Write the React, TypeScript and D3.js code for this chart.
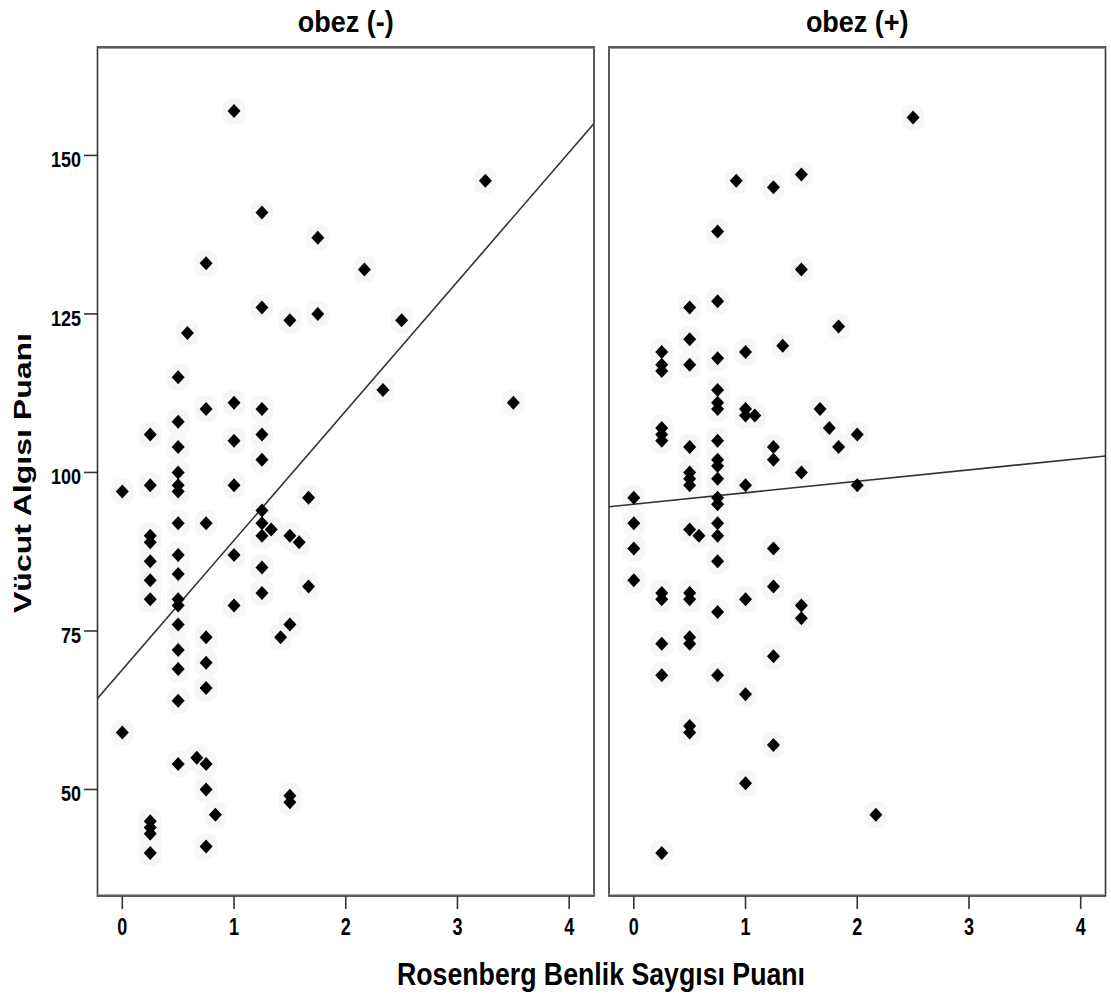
import React from "react";
import * as d3 from "d3";

// ---- Data ----
const panelTitles = ["obez (-)", "obez (+)"];
const xTicks = [0, 1, 2, 3, 4];
const yTicks = [50, 75, 100, 125, 150];
const xTitle = "Rosenberg Benlik Saygısı Puanı";
const yTitle = "Vücut Algısı Puanı";

// obez (-) : [Rosenberg score, body perception score]
const obezNeg: [number, number][] = [
  [0, 97], [0, 59],
  [0.25, 106], [0.25, 98], [0.25, 90], [0.25, 89], [0.25, 86], [0.25, 83], [0.25, 80],
  [0.25, 45], [0.25, 44], [0.25, 43], [0.25, 40],
  [0.5, 115], [0.5, 108], [0.5, 104], [0.5, 100], [0.5, 98], [0.5, 97], [0.5, 92], [0.5, 87],
  [0.5, 84], [0.5, 80], [0.5, 79], [0.5, 76], [0.5, 72], [0.5, 69], [0.5, 64], [0.5, 54],
  [0.583, 122], [0.667, 55],
  [0.75, 133], [0.75, 110], [0.75, 92], [0.75, 74], [0.75, 70], [0.75, 66], [0.75, 54], [0.75, 50], [0.75, 41],
  [0.833, 46],
  [1, 157], [1, 111], [1, 105], [1, 98], [1, 87], [1, 79],
  [1.25, 141], [1.25, 126], [1.25, 110], [1.25, 106], [1.25, 102], [1.25, 94], [1.25, 92], [1.25, 90], [1.25, 85], [1.25, 81],
  [1.333, 91], [1.417, 74],
  [1.5, 124], [1.5, 90], [1.5, 76], [1.5, 49], [1.5, 48],
  [1.583, 89], [1.667, 96], [1.667, 82], [1.75, 137], [1.75, 125],
  [2.167, 132], [2.333, 113], [2.5, 124], [3.25, 146], [3.5, 111],
];

// obez (+)
const obezPos: [number, number][] = [
  [0, 96], [0, 92], [0, 88], [0, 83],
  [0.25, 119], [0.25, 117], [0.25, 116], [0.25, 107], [0.25, 106], [0.25, 105], [0.25, 81], [0.25, 80],
  [0.25, 73], [0.25, 68], [0.25, 40],
  [0.5, 126], [0.5, 121], [0.5, 117], [0.5, 104], [0.5, 100], [0.5, 99], [0.5, 98], [0.5, 91],
  [0.5, 81], [0.5, 80], [0.5, 74], [0.5, 73], [0.5, 60], [0.5, 59],
  [0.583, 90],
  [0.75, 138], [0.75, 127], [0.75, 118], [0.75, 113], [0.75, 111], [0.75, 110], [0.75, 105], [0.75, 102],
  [0.75, 101], [0.75, 99], [0.75, 96], [0.75, 95], [0.75, 92], [0.75, 90], [0.75, 86], [0.75, 78], [0.75, 68],
  [0.917, 146],
  [1, 119], [1, 110], [1, 109], [1, 98], [1, 80], [1, 65], [1, 51],
  [1.083, 109],
  [1.25, 145], [1.25, 104], [1.25, 102], [1.25, 88], [1.25, 82], [1.25, 71], [1.25, 57],
  [1.333, 120],
  [1.5, 147], [1.5, 132], [1.5, 100], [1.5, 79], [1.5, 77],
  [1.667, 110], [1.75, 107], [1.833, 123], [1.833, 104], [2, 106], [2, 98], [2.167, 46], [2.5, 156],
];

// fit lines (intercept, slope) as drawn in the reference
const fitIntercepts = [68.9, 95.0];
const fitSlopes = [20.4, 1.8];

const panelData = [obezNeg, obezPos];

// ---- Layout ----
const W = 1111;
const H = 1005;
const panelLefts = [97.5, 609];
const panelWidth = 496.5;
const top = 47;
const bottom = 896;
const xDomain: [number, number] = [-0.222, 4.222];
const yDomain: [number, number] = [33.2, 167.1];
const FONT = "'Liberation Sans', Arial, Helvetica, sans-serif";

const y = d3.scaleLinear().domain(yDomain).range([bottom, top]);
const diamond = "M0,-7L6.5,0L0,7L-6.5,0Z";

function SText(props: {
  x: number; y: number; size: number; sx?: number; sy?: number; rotate?: number;
  anchor?: "start" | "middle" | "end"; length?: number; children: React.ReactNode;
}) {
  const { x, y, size, sx = 1, sy = 1, rotate = 0, anchor = "middle", length, children } = props;
  const extra = length ? { textLength: length, lengthAdjust: "spacingAndGlyphs" } : {};
  return (
    <text
      transform={`translate(${x},${y}) rotate(${rotate}) scale(${sx},${sy})`}
      textAnchor={anchor}
      fontSize={size}
      fontWeight="bold"
      fontFamily={FONT}
      fill="#000"
      {...extra}
    >
      {children}
    </text>
  );
}

function Panel({ idx }: { idx: number }) {
  const left = panelLefts[idx];
  const x = d3.scaleLinear().domain(xDomain).range([left, left + panelWidth]);
  const data = panelData[idx];
  const b0 = fitIntercepts[idx];
  const b1 = fitSlopes[idx];
  const line = d3
    .line<number>()
    .x((d) => x(d))
    .y((d) => y(b0 + b1 * d));
  const clipId = `clip-${idx}`;
  return (
    <g>
      <defs>
        <clipPath id={clipId}>
          <rect x={left} y={top} width={panelWidth} height={bottom - top} />
        </clipPath>
      </defs>
      <SText x={left + panelWidth / 2} y={32} size={27} sy={1.1}>
        {panelTitles[idx]}
      </SText>
      <g clipPath={`url(#${clipId})`}>
        {data.map((d, i) => (
          <rect
            key={"h" + i}
            x={x(d[0]) - 11}
            y={y(d[1]) - 13}
            width={22}
            height={26}
            rx={8}
            fill="#f7f7f7"
          />
        ))}
        <path d={line(xDomain) || ""} stroke="#333" strokeWidth={1.6} fill="none" />
        {data.map((d, i) => (
          <path key={i} d={diamond} transform={`translate(${x(d[0])},${y(d[1])})`} fill="#000" />
        ))}
      </g>
      <rect x={left} y={top} width={panelWidth} height={bottom - top} fill="none" stroke="#333" strokeWidth={1.6} />
      <line x1={left} x2={left + panelWidth} y1={top + 1.5} y2={top + 1.5} stroke="#999" strokeWidth={1.2} />
      <line x1={left} x2={left + panelWidth} y1={bottom - 1.5} y2={bottom - 1.5} stroke="#aaa" strokeWidth={1} />
      {xTicks.map((t) => (
        <g key={t}>
          <line x1={x(t)} x2={x(t)} y1={bottom} y2={bottom + 13} stroke="#333" strokeWidth={1.6} />
          <SText x={x(t)} y={935} size={18} sy={1.3}>
            {String(t)}
          </SText>
        </g>
      ))}
    </g>
  );
}

export default function App() {
  return (
    <svg
      width={W}
      height={H}
      style={{ position: "absolute", left: 0, top: 0, display: "block", background: "#fff" }}
    >
      <rect x={0} y={0} width={W} height={H} fill="#fff" />
      <Panel idx={0} />
      <Panel idx={1} />
      {yTicks.map((t) => (
        <g key={t}>
          <line x1={84} x2={panelLefts[0]} y1={y(t)} y2={y(t)} stroke="#333" strokeWidth={1.6} />
          <SText x={81} y={y(t) + 12} size={18} sy={1.25} anchor="end">
            {String(t)}
          </SText>
        </g>
      ))}
      <SText x={31} y={473} size={24} rotate={-90} length={280}>
        {yTitle}
      </SText>
      <SText x={601} y={985} size={26.5} sy={1.2} length={408}>
        {xTitle}
      </SText>
    </svg>
  );
}
